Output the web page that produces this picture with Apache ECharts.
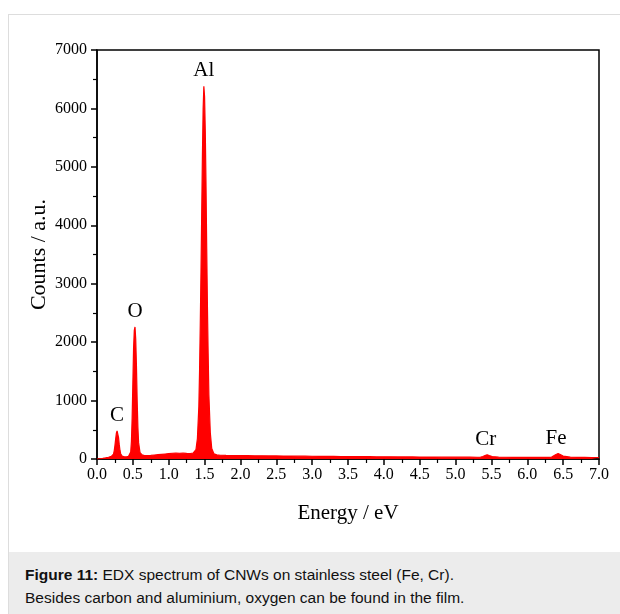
<!DOCTYPE html>
<html>
<head>
<meta charset="utf-8">
<script src="https://cdn.jsdelivr.net/npm/echarts@6/dist/echarts.min.js"></script>
<style>
html,body{margin:0;padding:0;width:620px;height:614px;background:#fff;overflow:hidden;}
#frame{position:absolute;left:8px;top:14px;width:640px;height:640px;border:1px solid #dddddd;box-sizing:border-box;}
#cap{position:absolute;left:9px;top:552px;width:620px;height:70px;background:#ececec;}
#captext{position:absolute;left:25px;top:563px;font-family:"Liberation Sans",Arial,sans-serif;font-size:15.5px;line-height:23px;color:#111;}
#chart{position:absolute;left:0;top:0;width:620px;height:614px;}
</style>
</head>
<body>
<div id="frame"></div>
<div id="cap"></div>
<div id="captext"><b>Figure 11:</b> EDX spectrum of CNWs on stainless steel (Fe, Cr).<br>Besides carbon and aluminium, oxygen can be found in the film.</div>
<div id="chart"></div>
<script>
var energy = [0.00,0.04,0.08,0.12,0.16,0.20,0.22,0.23,0.24,0.25,0.26,0.27,0.28,0.29,0.30,0.31,0.32,0.33,0.35,0.38,0.41,0.44,0.46,0.47,0.48,0.49,0.50,0.51,0.52,0.53,0.54,0.55,0.56,0.57,0.58,0.60,0.63,0.66,0.70,0.75,0.80,0.85,0.90,0.95,1.00,1.05,1.10,1.15,1.20,1.25,1.30,1.34,1.38,1.40,1.42,1.43,1.44,1.45,1.46,1.47,1.48,1.49,1.50,1.51,1.52,1.53,1.54,1.55,1.56,1.58,1.60,1.63,1.67,1.72,1.80,1.90,2.00,2.10,2.20,2.30,2.40,2.50,2.60,2.70,2.80,2.90,3.00,3.10,3.20,3.30,3.40,3.50,3.60,3.70,3.80,3.90,4.00,4.10,4.20,4.30,4.40,4.50,4.60,4.70,4.80,4.90,5.00,5.10,5.20,5.30,5.35,5.38,5.41,5.44,5.47,5.51,5.60,5.70,5.80,5.90,6.00,6.10,6.20,6.30,6.34,6.37,6.40,6.43,6.46,6.50,6.60,6.70,6.80,6.90,7.00];
var counts = [0,5,12,20,30,45,65,85,140,230,340,440,480,460,370,250,150,90,50,38,36,45,70,120,300,700,1300,1900,2200,2260,2050,1600,1000,550,280,110,70,58,58,62,68,74,80,86,92,98,100,98,100,96,94,100,160,350,900,1500,2300,3200,4200,5200,6000,6380,6200,5600,4700,3600,2600,1800,1100,450,180,90,70,64,62,60,58,57,55,55,53,52,51,50,49,48,47,46,45,44,43,42,41,40,39,38,37,37,36,35,35,34,33,33,32,32,31,31,31,30,31,42,58,72,58,42,31,30,29,28,28,27,27,28,32,55,78,92,76,50,32,28,27,26,25,24];
var peakNames = ["C","O","Al","Cr","Fe"];
var peakEnergy = [0.28,0.53,1.49,5.42,6.40];
var peakCounts = [480,2260,6380,72,92];
var xTicks = ["0.0","0.5","1.0","1.5","2.0","2.5","3.0","3.5","4.0","4.5","5.0","5.5","6.0","6.5","7.0"];
var yTicks = ["0","1000","2000","3000","4000","5000","6000","7000"];

var serif = '"Liberation Serif","Times New Roman",serif';
var spectrum = energy.map(function(e,i){return [e,counts[i]];});
var peaks = peakEnergy.map(function(e,i){return {value:[e,peakCounts[i]],name:peakNames[i]};});

var chart = echarts.init(document.getElementById('chart'));
chart.setOption({
  backgroundColor:'transparent',
  animation:false,
  grid:{left:97,right:21,top:50,bottom:155,show:true,borderColor:'#000',borderWidth:1.5,backgroundColor:'transparent'},
  xAxis:{type:'value',min:0,max:7,interval:0.5,
    name:'Energy / eV',nameLocation:'middle',nameGap:44,nameMoveOverlap:false,
    nameTextStyle:{fontFamily:serif,fontSize:21,color:'#000'},
    axisLine:{lineStyle:{color:'#000',width:1.5}},
    axisTick:{inside:false,length:6,lineStyle:{color:'#000',width:1.5}},
    minorTick:{show:true,splitNumber:2,length:4,lineStyle:{color:'#000',width:1.2}},
    splitLine:{show:false},
    axisLabel:{margin:8,fontFamily:serif,fontSize:16,color:'#000',formatter:function(v){return xTicks[Math.round(v/0.5)];}}
  },
  yAxis:{type:'value',min:0,max:7000,interval:1000,
    name:'Counts / a.u.',nameLocation:'middle',nameGap:47,nameMoveOverlap:false,
    nameTextStyle:{fontFamily:serif,fontSize:22,color:'#000'},
    axisLine:{show:true,lineStyle:{color:'#000',width:1.5}},
    axisTick:{show:true,inside:false,length:6,lineStyle:{color:'#000',width:1.5}},
    minorTick:{show:true,splitNumber:2,length:4,lineStyle:{color:'#000',width:1.2}},
    splitLine:{show:false},
    axisLabel:{margin:10,fontFamily:serif,fontSize:16,color:'#000',formatter:function(v){return yTicks[Math.round(v/1000)];}}
  },
  series:[
    {type:'line',data:spectrum,symbol:'none',smooth:false,
      lineStyle:{color:'#ff0000',width:1.2},
      areaStyle:{color:'#ff0000',opacity:1}},
    {type:'scatter',data:peaks,symbolSize:0,itemStyle:{opacity:1},
      label:{show:true,position:'top',distance:5,formatter:'{b}',fontFamily:serif,fontSize:21,color:'#000',opacity:1}}
  ]
});
</script>
</body>
</html>
